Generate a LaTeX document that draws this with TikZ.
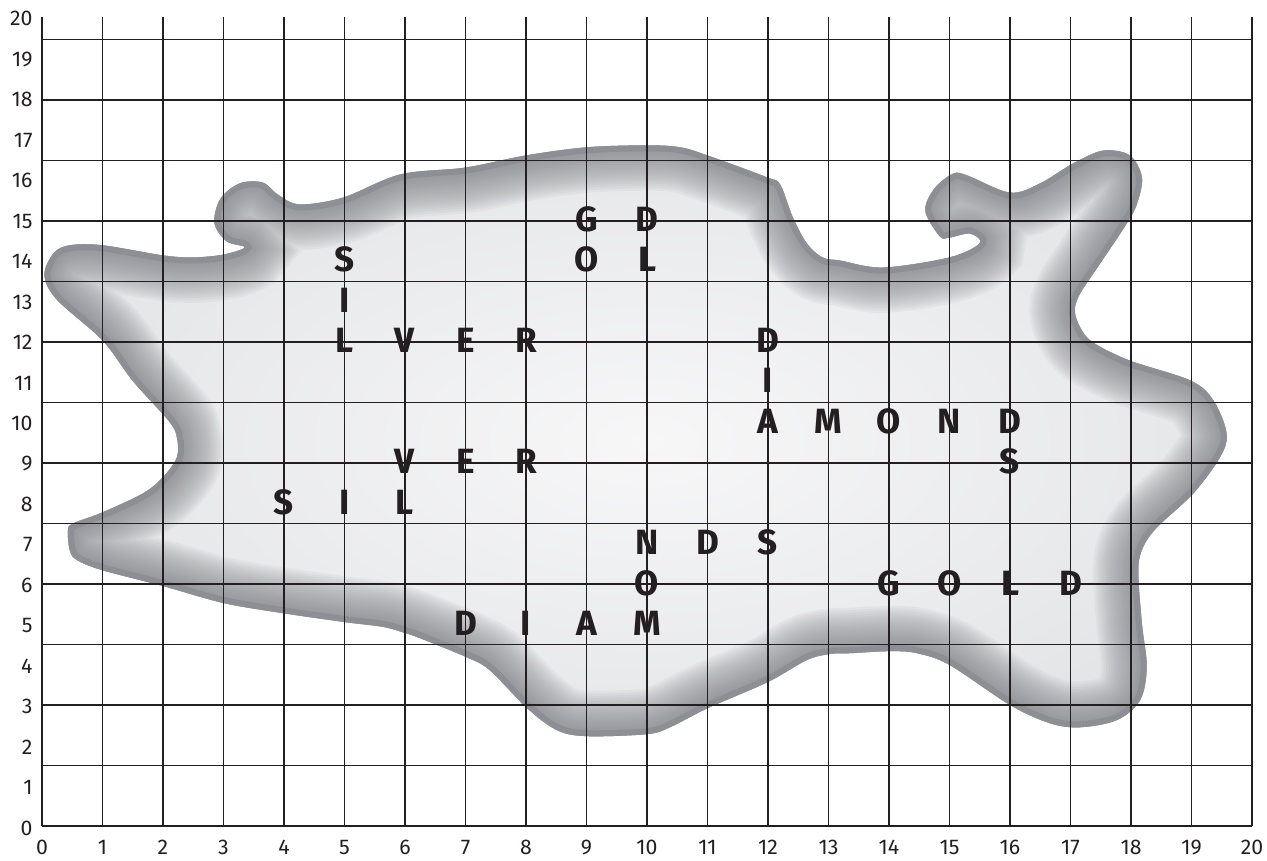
\documentclass[tikz,border=0pt]{standalone}
\usepackage{fontspec}
\setmainfont{Fira Sans}
\newfontfamily\letfont{Fira Sans}
\definecolor{edgegray}{HTML}{8E8F94}
\definecolor{blobhi}{HTML}{F7F7F8}
\definecolor{bloblo}{HTML}{E3E4E6}
\definecolor{ink}{HTML}{231F20}
\tikzset{
  gridline/.style={line width=0.8pt, draw=ink},
  word/.style={font=\letfont\bfseries\fontsize{16.5}{18}\selectfont, inner sep=0pt, text=ink},
  ylab/.style={font=\fontsize{10}{12}\selectfont, anchor=east, inner sep=0pt, text=ink},
  xlab/.style={font=\fontsize{10}{12}\selectfont, anchor=north, inner sep=0pt, text=ink},
}
\newcommand\blobpath{plot[smooth cycle, tension=0.55] coordinates {
(0.46,14.35) (1.0,14.35) (2.0,14.1) (2.5,14.05) (3.0,14.12) (3.35,14.3)
(3.05,14.45) (2.85,14.9) (2.95,15.5) (3.27,15.88) (3.65,15.9) (3.9,15.6)
(4.26,15.36) (4.98,15.53) (5.92,16.1) (7.0,16.27) (8.0,16.57) (9.0,16.77)
(10.0,16.82) (10.55,16.77) (11.0,16.57) (11.98,16.03) (12.2,15.85) (12.41,15.04)
(12.64,14.4) (12.9,14.05) (13.2,13.97) (13.9,13.8) (15.0,14.05) (15.5,14.4)
(15.34,14.64) (15.0,14.54) (14.84,14.57) (14.6,15.2) (14.75,15.75) (15.06,16.12)
(15.3,16.07) (16.0,15.65) (16.5,15.88) (17.04,16.37) (17.54,16.69) (17.98,16.57)
(18.18,16.03) (18.1,15.38) (17.93,14.89) (17.49,13.9) (17.16,13.16) (17.07,12.74)
(17.16,12.32) (17.37,11.95) (17.98,11.5) (18.98,11.01) (19.36,10.52) (19.58,9.7)
(19.47,9.11) (19.03,8.22) (18.43,7.38) (18.2,6.89) (18.12,6.32) (18.18,5.0)
(18.26,3.93) (18.15,3.11) (17.77,2.62) (17.16,2.44) (16.66,2.54) (16.0,2.99)
(15.0,3.98) (14.46,4.27) (14.02,4.32) (13.36,4.27) (13.02,4.25) (12.64,4.1)
(12.0,3.56) (11.0,2.91) (10.38,2.44) (10.0,2.27) (9.0,2.22) (8.51,2.37)
(8.02,2.91) (7.4,3.85) (7.02,4.17) (6.25,4.64) (6.0,4.77) (5.64,4.92)
(5.0,5.04) (3.98,5.26) (3.0,5.51) (2.0,5.93) (1.0,6.32) (0.58,6.57)
(0.46,6.81) (0.43,7.31) (0.52,7.48) (1.0,7.75) (1.67,8.22) (2.0,8.62)
(2.23,9.11) (2.23,9.6) (2.1,10.0) (1.5,11.0) (1.0,12.0) (0.25,13.0)
(0.04,13.6) (0.19,14.15)}}
\begin{document}
\begin{tikzpicture}[x=1cm,y=0.6689cm]
\useasboundingbox (-0.694cm,-0.562cm) rectangle (20.248cm,13.653cm);
% blob
\begin{scope}
  \clip \blobpath;
  \shade[inner color=blobhi, outer color=bloblo] (-1,1) rectangle (21,18);
  \foreach \w in {1.5,1.42,1.34,1.26,1.18,1.1,1.02,0.94,0.86,0.78,0.7,0.63,0.56,0.5,0.44,0.38,0.33,0.28}{
    \draw[edgegray, line width=\w cm, opacity=0.085] \blobpath;
  }
  \draw[edgegray, line width=0.2cm] \blobpath;
\end{scope}
% grid
\draw[gridline] (0,0) grid (20,20);
% axis labels
\foreach \i in {0,...,20}{
  \node[ylab] (y\i) at ([xshift=-0.15cm,yshift=-1pt]0,\i) {\i};
  \node[xlab] (x\i) at ([yshift=-0.23cm]\i,0) {\i};
}
% letters
\foreach \ch/\x/\y [count=\k] in {
  G/9/15, D/10/15, O/9/14, L/10/14,
  S/5/14, I/5/13, L/5/12, V/6/12, E/7/12, R/8/12,
  D/12/12, I/12/11, A/12/10, M/13/10, O/14/10, N/15/10, D/16/10, S/16/9,
  V/6/9, E/7/9, R/8/9, S/4/8, I/5/8, L/6/8,
  N/10/7, D/11/7, S/12/7, O/10/6, D/7/5, I/8/5, A/9/5, M/10/5,
  G/14/6, O/15/6, L/16/6, D/17/6}{
  \node[word] (l\k) at (\x,\y) {\ch};
}
\end{tikzpicture}
\end{document}
